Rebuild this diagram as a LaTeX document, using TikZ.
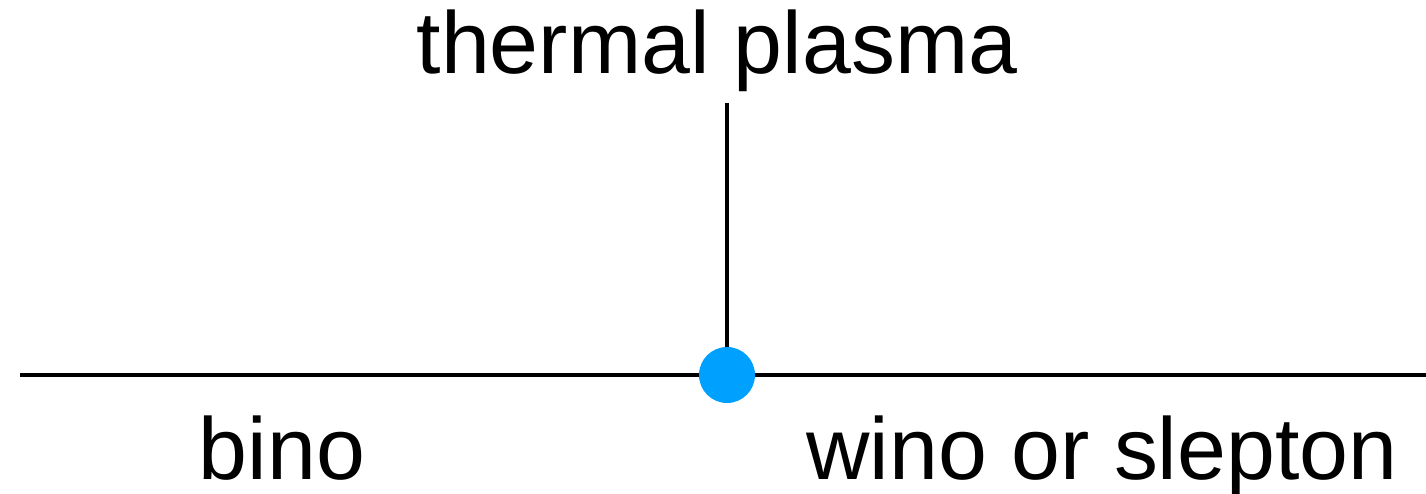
\documentclass[tikz,border=0pt]{standalone}
\usepackage{fontspec}
\setmainfont{Liberation Sans}
\usepackage{xcolor}
\definecolor{cLine}{HTML}{000000}
\definecolor{cVertex}{HTML}{00A0FF}
\usepackage{tikz}
\usetikzlibrary{positioning}
\tikzset{
  particle-line/.style={line width=2.3pt,draw=cLine},
  node-vertex/.style={circle,fill=cVertex,inner sep=0pt,minimum size=11.2mm},
  node-label/.style={anchor=base,inner sep=0pt,font=\fontsize{50}{60}\selectfont},
}
\begin{document}
\begin{tikzpicture}
  \useasboundingbox (-14.54,-2.36) rectangle (13.98,7.5);
  \coordinate (left)  at (-14.14,0);
  \coordinate (right) at (13.98,0);
  \coordinate (top)   at (0,5.44);
  \draw[particle-line] (left) -- (right);
  \draw[particle-line] (top) -- (0,0);
  \node[node-vertex] (v) at (0,0) {};
  \node[node-label] (plasma) at (-0.2,6.04) {thermal plasma};
  \node[node-label] (bino)   at (-8.9,-2.08) {bino};
  \node[node-label] (wino)   at (7.5,-2.08) {wino or slepton};
\end{tikzpicture}
\end{document}
